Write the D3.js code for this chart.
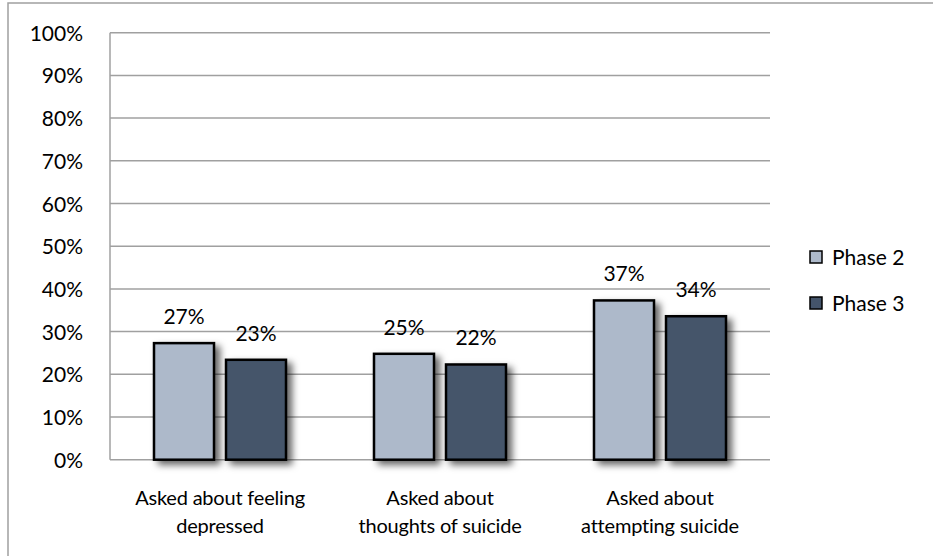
<!DOCTYPE html>
<html>
<head>
<meta charset="utf-8">
<script src="https://cdnjs.cloudflare.com/ajax/libs/d3/7.8.5/d3.min.js"></script>
<style>
  body { margin: 0; background: #fff; }
  svg text { font-family: Lato, "Open Sans", sans-serif; fill: #000; }
</style>
</head>
<body>
<svg width="933" height="556"></svg>
<script>
// chart values
var categories = [["Asked about feeling", "depressed"], ["Asked about", "thoughts of suicide"], ["Asked about", "attempting suicide"]];
var seriesNames = ["Phase 2", "Phase 3"];
var phase2 = [27.3, 24.8, 37.3];
var phase3 = [23.4, 22.3, 33.6];
var yTicks = [0, 10, 20, 30, 40, 50, 60, 70, 80, 90, 100];
var colors = ["#adb9ca", "#44546a"];

var svg = d3.select("svg");
var margin = { top: 32.7, left: 110, right: 163, bottom: 96.3 };
var width = 933 - margin.left - margin.right;
var height = 556 - margin.top - margin.bottom;

var defs = svg.append("defs");
var f = defs.append("filter").attr("id", "shadow")
    .attr("x", "-20%").attr("y", "-20%").attr("width", "160%").attr("height", "150%");
f.append("feDropShadow").attr("dx", 5).attr("dy", 4).attr("stdDeviation", 3.5)
    .attr("flood-color", "#000").attr("flood-opacity", 0.6);

// outer border
svg.append("rect")
    .attr("x", 8).attr("y", 3).attr("width", 950).attr("height", 580)
    .attr("fill", "none").attr("stroke", "#a0a0a0").attr("stroke-width", 1.5);

var g = svg.append("g").attr("transform", "translate(" + margin.left + "," + margin.top + ")");

var x0 = d3.scaleBand().domain(d3.range(categories.length)).range([0, width])
    .paddingInner(0.4).paddingOuter(0.2);
var x1 = d3.scaleBand().domain(d3.range(seriesNames.length)).range([0, x0.bandwidth()]).paddingInner(1 / 6);
var y = d3.scaleLinear().domain([0, 100]).range([height, 0]);

// gridlines
g.append("g").selectAll("line")
    .data(yTicks)
    .enter().append("line")
    .attr("x1", 0).attr("x2", width)
    .attr("y1", function (d) { return y(d); })
    .attr("y2", function (d) { return y(d); })
    .attr("stroke", "#a0a0a0").attr("stroke-width", 1.5);

g.append("line")
    .attr("x1", 0).attr("x2", 0).attr("y1", 0).attr("y2", height)
    .attr("stroke", "#a0a0a0").attr("stroke-width", 1.5);

var yAxis = g.append("g")
    .call(d3.axisLeft(y).tickValues(yTicks).tickSize(0).tickPadding(27)
        .tickFormat(function (d) { return d + "%"; }));
yAxis.select(".domain").remove();
yAxis.selectAll("text").style("font-size", "21px").attr("dy", "0.36em")
    .style("font-family", "Lato, sans-serif").attr("fill", "#000");

var data = categories.map(function (c, i) { return [phase2[i], phase3[i]]; });

var groups = g.selectAll(".grp")
    .data(data)
    .enter().append("g")
    .attr("class", "grp")
    .attr("transform", function (d, i) { return "translate(" + x0(i) + ",0)"; });

groups.selectAll("rect")
    .data(function (d) { return d; })
    .enter().append("rect")
    .attr("x", function (d, j) { return x1(j); })
    .attr("y", function (d) { return y(d); })
    .attr("width", x1.bandwidth())
    .attr("height", function (d) { return height - y(d); })
    .attr("fill", function (d, j) { return colors[j]; })
    .attr("stroke", "#000").attr("stroke-width", 2.5)
    .attr("filter", "url(#shadow)");

groups.selectAll(".lbl")
    .data(function (d) { return d; })
    .enter().append("text")
    .attr("class", "lbl")
    .attr("x", function (d, j) { return x1(j) + x1.bandwidth() / 2; })
    .attr("y", function (d) { return y(d) - 19; })
    .attr("text-anchor", "middle")
    .style("font-size", "21px")
    .text(function (d) { return Math.round(d) + "%"; });

// category labels
var cat = g.append("g").selectAll("text")
    .data(categories)
    .enter().append("text")
    .attr("text-anchor", "middle")
    .attr("x", function (d, i) { return x0(i) + x0.bandwidth() / 2; })
    .attr("y", height + 45.7)
    .style("font-size", "20px")
    .style("letter-spacing", "-0.2px");
cat.selectAll("tspan")
    .data(function (d) { return d; })
    .enter().append("tspan")
    .attr("x", function () { return d3.select(this.parentNode).attr("x"); })
    .attr("dy", function (d, k) { return k === 0 ? 0 : 28; })
    .text(function (d) { return d; });

// legend
var legend = svg.append("g").selectAll("g")
    .data(seriesNames)
    .enter().append("g")
    .attr("transform", function (d, i) { return "translate(810," + (257 + i * 46) + ")"; });
legend.append("rect")
    .attr("x", 0).attr("y", -6).attr("width", 12).attr("height", 12)
    .attr("fill", function (d, i) { return colors[i]; })
    .attr("stroke", "#000").attr("stroke-width", 1.5);
legend.append("text")
    .attr("x", 22).attr("dy", "0.36em")
    .style("font-size", "21px")
    .text(function (d) { return d; });
</script>
</body>
</html>
